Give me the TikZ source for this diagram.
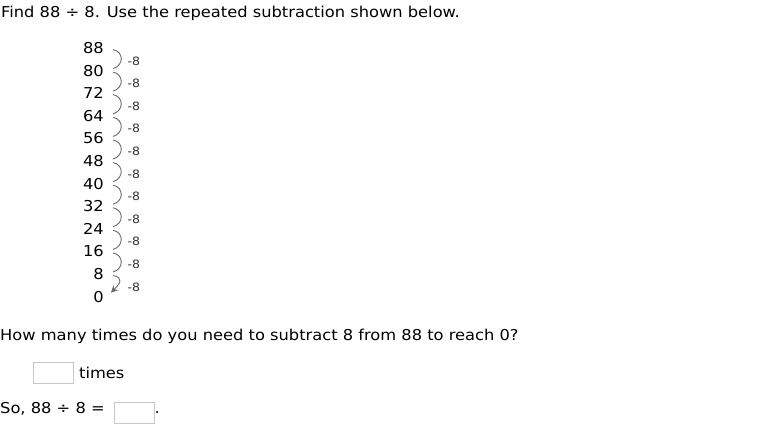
\documentclass[tikz,border=0pt]{standalone}
\usepackage{fontspec}
\setmainfont[FakeStretch=1.085]{DejaVu Sans}
\usetikzlibrary{arrows.meta}
\definecolor{hopgray}{HTML}{6A6A6A}
\definecolor{labgray}{HTML}{333333}
\definecolor{boxgray}{HTML}{C8C8C8}
\tikzset{
  txt/.style={anchor=base west,inner sep=0pt,font=\fontsize{15}{18}\selectfont},
  num/.style={anchor=base east,inner sep=0pt,font=\fontsize{15}{18}\selectfont},
  hoplabel/.style={anchor=west,inner sep=0pt,text=labgray,font=\fontsize{11.5}{13}\selectfont},
  hop/.style={hopgray,line width=.9pt},
  ansbox/.style={draw=boxgray,line width=1pt,anchor=north west,inner sep=0pt,minimum width=40pt,minimum height=21pt}
}
\begin{document}
\begin{tikzpicture}[x=1pt,y=-1pt]
\useasboundingbox (0,0) rectangle (760,426);
\node[txt] (title) at (1,17.5) {Find 88 \char"00F7{} 8. Use the repeated subtraction shown below.};
\foreach \v [count=\i from 0] in {88,80,...,0}
  \node[num] (n\i) at (104,{53.5+22.6*\i}) {\v};
\foreach \i in {0,...,9}{
  \pgfmathtruncatemacro\j{\i+1}
  \draw[hop] ([shift={(9,1.5)}]n\i.east) .. controls +(11,2) and +(11,-3) .. ([shift={(9,-2)}]n\j.east);
}
\draw[hop,-{Stealth[length=7pt,width=7pt]}] ([shift={(9,1.5)}]n10.east)
  .. controls +(12,2) and +(8,-8) .. ([shift={(7,-4)}]n11.east);
\foreach \i in {0,...,10}
  \node[hoplabel] (m\i) at ([shift={(23.5,12.8)}]n\i.east) {-8};
\node[txt] (question) at (0,340) {How many times do you need to subtract 8 from 88 to reach 0?};
\node[ansbox] (times box) at (32.5,362) {};
\node[txt] (times) at (79,378.3) {times};
\node[txt] (so) at (0,413.3) {So, 88 \char"00F7{} 8 =};
\node[ansbox] (quot box) at (113.5,401.5) {};
\node[txt] (dot) at (154.5,413.3) {.};
\end{tikzpicture}
\end{document}
